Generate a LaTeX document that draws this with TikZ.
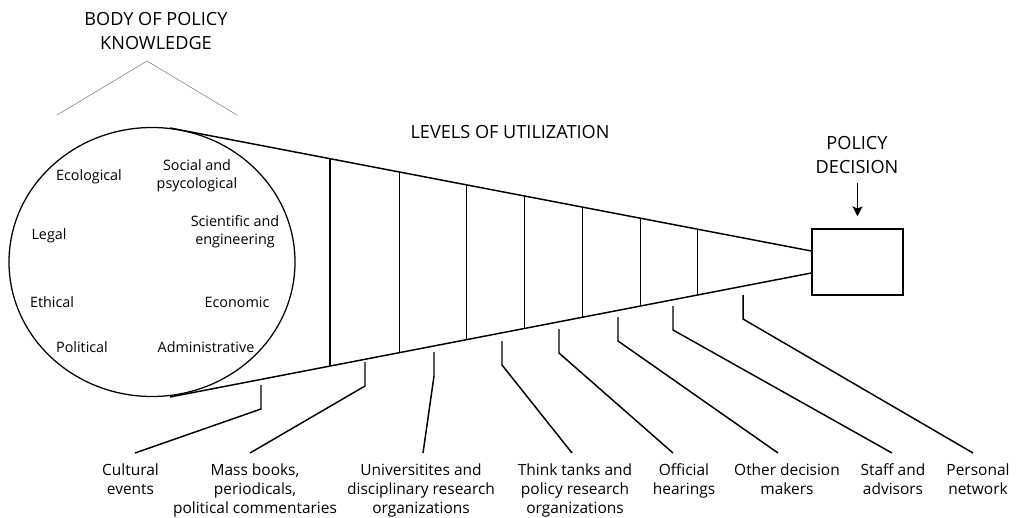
\documentclass[tikz,border=0pt]{standalone}
\usepackage{fontspec}
\setmainfont{Open Sans}
\usetikzlibrary{calc,arrows.meta}
\tikzset{
	heading/.style={align=center, inner sep=0pt, font=\fontsize{12.9}{16.4}\selectfont},
	field/.style={align=center, inner sep=0pt, font=\fontsize{10.2}{13}\selectfont},
	source/.style={align=center, anchor=north, inner xsep=1pt, inner ysep=7.4pt, font=\fontsize{11}{13.5}\selectfont},
	funnel/.style={line width=1.05pt},
	hook/.style={line width=1.05pt},
}
\begin{document}
\begin{tikzpicture}[x=0.025cm, y=-0.025cm]
		\useasboundingbox (0,0) rectangle (1017,518);
		%draw headings
		\node[heading] (body) at (156,31) {BODY OF POLICY\\KNOWLEDGE};
		\node[heading] (levels) at (510,132) {LEVELS OF UTILIZATION};
		\node[heading] (decision) at (857,155) {POLICY\\DECISION};
		\coordinate (apex) at (147,61);
		\coordinate (roofl) at (57,115);
		\coordinate (roofr) at (237,115);
		\draw [black!50, line width=0.4pt] (roofl) -- (apex) -- (roofr);
		%draw body of knowledge
		\coordinate (kc) at (152,262);
		\draw [line width=0.9pt] (kc) ellipse [x radius=143, y radius=134.5];
		\node[field] (eco) at (89,177) {Ecological};
		\node[field] (soc) at (197,176) {Social and\\psycological};
		\node[field] (leg) at (49,236) {Legal};
		\node[field] (sci) at (235,232) {Scientific and\\engineering};
		\node[field] (eth) at (52,302) {Ethical};
		\node[field] (econ) at (237,302) {Economic};
		\node[field] (pol) at (82,347) {Political};
		\node[field] (adm) at (206,347) {Administrative};
		%draw funnel
		\node[draw, line width=1pt, minimum width=2.275cm, minimum height=1.65cm] (box) at (857.5,262) {};
		\coordinate (ftl) at (170,128);
		\coordinate (fbl) at (170,397);
		\coordinate (ftr) at ($(box.west)+(0,-11)$);
		\coordinate (fbr) at ($(box.west)+(0,11)$);
		\draw [funnel] (ftl) -- (ftr);
		\draw [funnel] (fbl) -- (fbr);
		\foreach \x in {330,400,467,525,583,641,698}
			\draw [funnel] ($(ftl)!{(\x-170)/642}!(ftr)$) -- ($(fbl)!{(\x-170)/642}!(fbr)$);
		\draw [-{Stealth[length=7pt, width=7pt, inset=1.5pt]}, line width=1pt]
			($(box.north)+(0,-45)$) -- ($(box.north)+(0,-12)$);
		%draw sources
		\node[source] (cul) at (130.5,453) {Cultural\\events};
		\node[source] (mass) at (255,453) {Mass books,\\periodicals,\\political commentaries};
		\node[source] (univ) at (421,453) {Universitites and\\disciplinary research\\organizations};
		\node[source] (think) at (575,453) {Think tanks and\\policy research\\organizations};
		\node[source] (offic) at (684,453) {Official\\hearings};
		\node[source] (other) at (787,453) {Other decision\\makers};
		\node[source] (staff) at (893,453) {Staff and\\advisors};
		\node[source] (pers) at (978,453) {Personal\\network};
		\foreach \tx/\ty/\lbl/\dx in {261/385/cul/4.5, 365/362/mass/-5, 434/352/univ/2,
				502/341/think/-3, 559/329/offic/-11, 618/317/other/-9, 673/306/staff/-1, 743/295/pers/-5}{
			\coordinate (t\lbl) at (\tx,\ty);
			\draw [hook] (t\lbl) -- ++(0,24) -- ($(\lbl.north)+(\dx,0)$);
		}
	\end{tikzpicture}
\end{document}
